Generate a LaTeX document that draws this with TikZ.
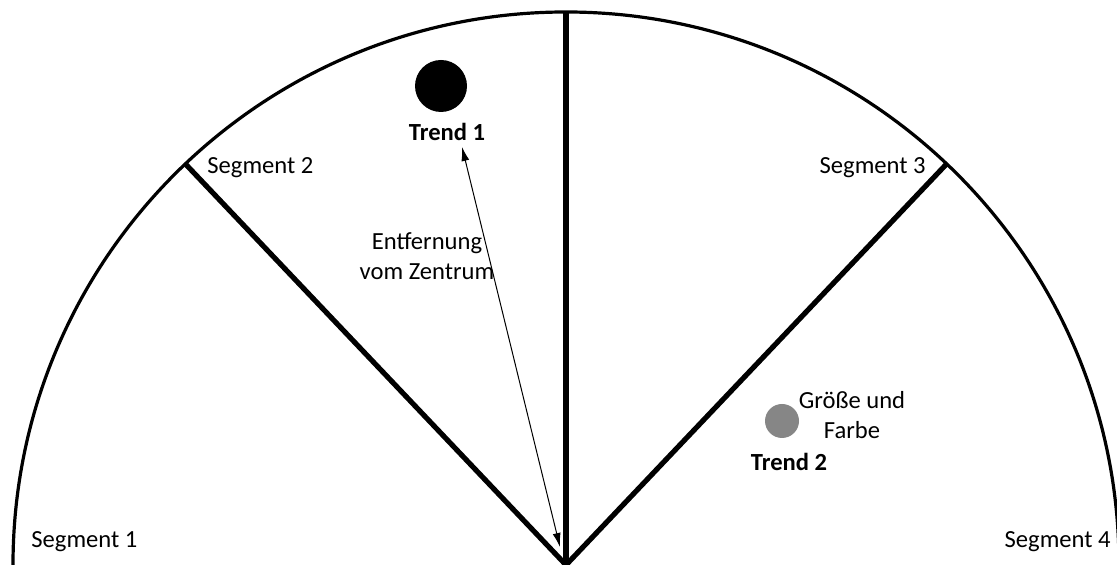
\documentclass[tikz,border=0pt]{standalone}
\usepackage{fontspec}
\setmainfont{Carlito}
\usetikzlibrary{arrows.meta}
\tikzset{
  lbl/.style={font=\fontsize{12.3}{15}\selectfont, inner sep=0pt},
  trendlbl/.style={lbl, font=\fontsize{12.3}{15}\selectfont\bfseries},
  spoke/.style={line width=2.6pt},
}
\begin{document}
\begin{tikzpicture}[x=0.5pt,y=0.5pt]
\useasboundingbox (0,0) rectangle (1117,565);
\coordinate (z) at (566,0);
\draw[line width=1.6pt] (z) ++(180:553) arc[start angle=180,end angle=0,radius=553];
\draw[spoke] (z) -- ++(90:553);
\draw[spoke] (z) -- ++(133.5:553);
\draw[spoke] (z) -- ++(46.5:553);
\fill (441,479) circle (26);
\node[trendlbl] (t1) at (447,433) {Trend 1};
\fill[gray!95] (782,144) circle (17);
\node[trendlbl] (t2) at (789,103) {Trend 2};
\coordinate (tip) at (462,418);
\coordinate (foot) at (560,18);
\draw[{Latex[length=7pt,width=4pt]}-{Latex[length=7pt,width=4pt]}, line width=0.5pt] (tip) -- (foot);
\node[lbl, align=center] (dist) at (427,309) {Entfernung\\vom Zentrum};
\node[lbl, align=center] (size) at (852,150) {Größe und\\Farbe};
\node[lbl, anchor=west] (s1) at (31,23) {Segment 1};
\node[lbl, anchor=west] (s2) at (207,397) {Segment 2};
\node[lbl, anchor=east] (s3) at (926,397) {Segment 3};
\node[lbl, anchor=east] (s4) at (1111,23) {Segment 4};
\end{tikzpicture}
\end{document}
